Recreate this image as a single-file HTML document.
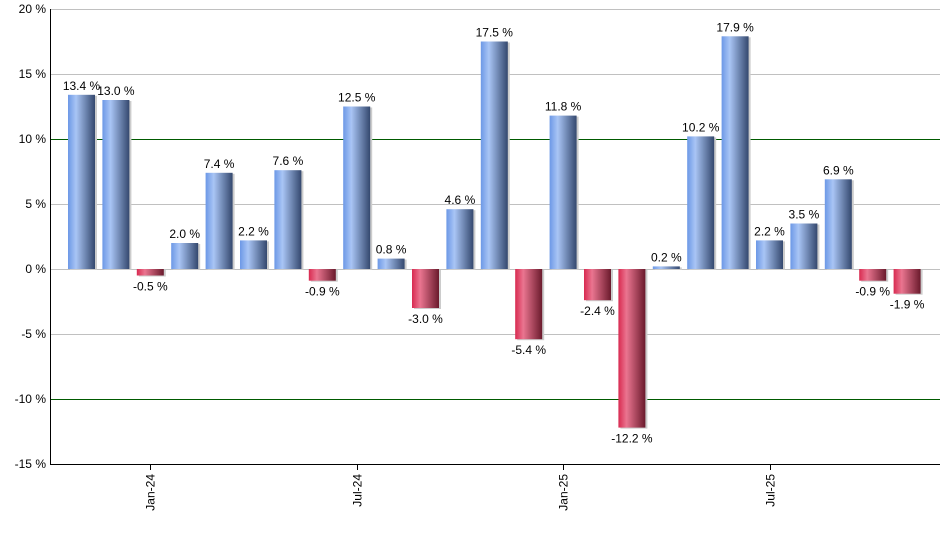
<!DOCTYPE html>
<html><head><meta charset="utf-8"><style>
body{margin:0;background:#fff;}
svg text{font-family:"Liberation Sans",sans-serif;font-size:12px;fill:#000;}
</style></head><body>
<svg id="chart" width="940" height="550" xmlns="http://www.w3.org/2000/svg">
<defs>
<linearGradient id="gb" x1="0" x2="1"><stop offset="0" stop-color="#6c98e6"/><stop offset="0.3" stop-color="#a9c5f5"/><stop offset="1" stop-color="#34486e"/></linearGradient>
<linearGradient id="gr" x1="0" x2="1"><stop offset="0" stop-color="#d82a50"/><stop offset="0.3" stop-color="#ea7590"/><stop offset="1" stop-color="#6a1a2c"/></linearGradient>
</defs>
<g id="grid"></g><g id="bars"></g><g id="axes"></g>
</svg>
<script>
const categories=["Nov-23","Dec-23","Jan-24","Feb-24","Mar-24","Apr-24","May-24","Jun-24","Jul-24","Aug-24","Sep-24","Oct-24","Nov-24","Dec-24","Jan-25","Feb-25","Mar-25","Apr-25","May-25","Jun-25","Jul-25","Aug-25","Sep-25","Oct-25","Nov-25"];
const values=[13.4,13.0,-0.5,2.0,7.4,2.2,7.6,-0.9,12.5,0.8,-3.0,4.6,17.5,-5.4,11.8,-2.4,-12.2,0.2,10.2,17.9,2.2,3.5,6.9,-0.9,-1.9];
const yTicks=[20,15,10,5,0,-5,-10,-15];
const xLabels=["Jan-24","Jul-24","Jan-25","Jul-25"];
const NS="http://www.w3.org/2000/svg";
const y=v=>269-v*13;
const x=i=>81.5+i*34.4;
function mk(t,a,p){const e=document.createElementNS(NS,t);for(const k in a)e.setAttribute(k,a[k]);p.appendChild(e);return e;}
const grid=document.getElementById('grid'),bars=document.getElementById('bars'),axes=document.getElementById('axes');
yTicks.forEach(t=>{
  if(t!==-15){const l=mk('line',{x1:50,x2:940,y1:y(t)+0.5,y2:y(t)+0.5,stroke:(Math.abs(t)===10)?'#005a00':'#c0c0c0','stroke-width':1},grid);
  
  }
  const tx=mk('text',{x:46,y:y(t)+4,'text-anchor':'end'},axes);tx.textContent=t+' %';
  
  
});
values.forEach((v,i)=>{
  const top=Math.min(y(v),y(0)),h=Math.abs(y(v)-y(0));
  mk('rect',{x:x(i)-13.5+2,y:top+1,width:27,height:h,fill:'#ccc'},bars);
  const r=mk('rect',{x:x(i)-13.5,y:top,width:27,height:h,fill:v>=0?'url(#gb)':'url(#gr)'},bars);
  
  
  const t=mk('text',{x:x(i),y:v>=0?y(v)-5:y(v)+15,'text-anchor':'middle'},bars);
  t.textContent=v.toFixed(1)+' %';
  
  
});
mk('line',{x1:50.5,x2:50.5,y1:9,y2:465,stroke:'#000'},axes);
mk('line',{x1:50,x2:940,y1:464.5,y2:464.5,stroke:'#000'},axes);
xLabels.forEach(lb=>{
  const i=categories.indexOf(lb),cx=Math.round(x(i))+0.5;
  mk('line',{x1:cx,x2:cx,y1:464,y2:470,stroke:'#000'},axes);
  const t=mk('text',{x:0,y:0,'text-anchor':'end',transform:`translate(${cx+4},474) rotate(-90)`},axes);
  t.textContent=lb;
  
  
});
</script>
</body></html>
